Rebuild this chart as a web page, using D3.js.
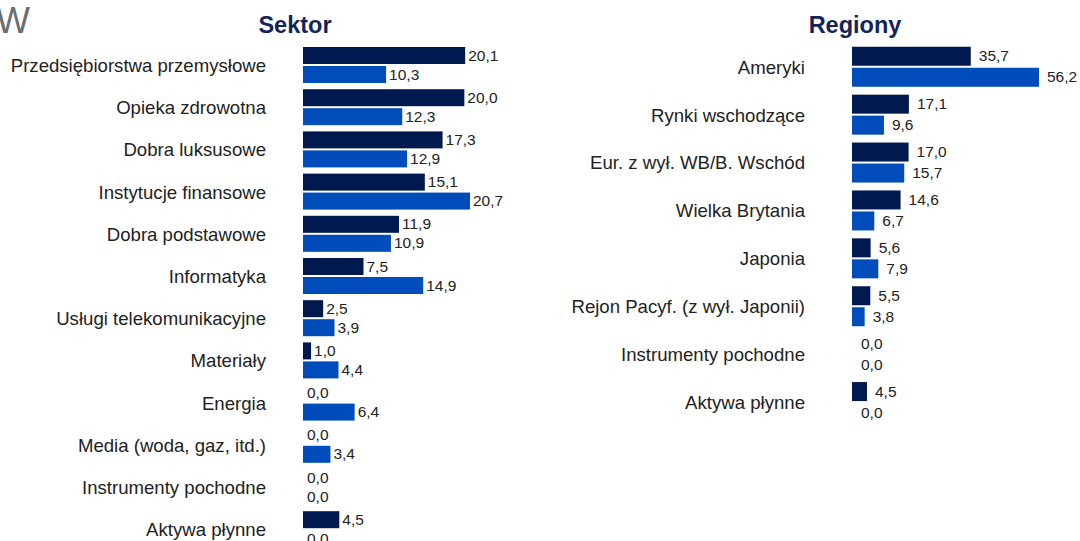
<!DOCTYPE html>
<html>
<head>
<meta charset="utf-8">
<script src="https://cdn.jsdelivr.net/npm/d3@7"></script>
<style>
  body { margin: 0; background: #fff; }
  svg { display: block; font-family: "Liberation Sans", Arial, sans-serif; }
  .title { font-weight: bold; font-size: 23.5px; fill: #13245a; }
  .cat { font-size: 18.6px; fill: #222; }
  .val { font-size: 15.5px; fill: #222; }
</style>
</head>
<body>
<svg id="chart" width="1080" height="541"></svg>
<script>
const DARK = '#001a4f';
const LIGHT = '#004cbb';

const sectors = ['Przedsiębiorstwa przemysłowe', 'Opieka zdrowotna', 'Dobra luksusowe',
  'Instytucje finansowe', 'Dobra podstawowe', 'Informatyka', 'Usługi telekomunikacyjne',
  'Materiały', 'Energia', 'Media (woda, gaz, itd.)', 'Instrumenty pochodne', 'Aktywa płynne'];
const sectorFund = [20.1, 20.0, 17.3, 15.1, 11.9, 7.5, 2.5, 1.0, 0.0, 0.0, 0.0, 4.5];
const sectorIndex = [10.3, 12.3, 12.9, 20.7, 10.9, 14.9, 3.9, 4.4, 6.4, 3.4, 0.0, 0.0];

const regions = ['Ameryki', 'Rynki wschodzące', 'Eur. z wył. WB/B. Wschód', 'Wielka Brytania',
  'Japonia', 'Rejon Pacyf. (z wył. Japonii)', 'Instrumenty pochodne', 'Aktywa płynne'];
const regionFund = [35.7, 17.1, 17.0, 14.6, 5.6, 5.5, 0.0, 4.5];
const regionIndex = [56.2, 9.6, 15.7, 6.7, 7.9, 3.8, 0.0, 0.0];

const series = ['fund', 'index'];
const svg = d3.select('#chart');
const fmt = v => v.toFixed(1).replace('.', ',');

// clipped heading fragment at the top-left
svg.append('text')
  .attr('x', -4).attr('y', 33)
  .attr('font-size', 36).attr('fill', '#6b6f72')
  .text('W');

function drawPanel (cfg) {
  const g = svg.append('g');
  const rows = cfg.cats.map((c, i) => ({ cat: c, fund: cfg.fund[i], index: cfg.index[i] }));

  const x = d3.scaleLinear().domain([0, cfg.xMax]).range([cfg.x0, cfg.x1]);
  const y = d3.scaleBand().domain(cfg.cats).range([cfg.yTop, cfg.yTop + cfg.step * cfg.cats.length]);
  const sub = d3.scaleBand().domain(series)
    .range([cfg.inset, cfg.inset + cfg.group]).paddingInner(cfg.gapPad);

  g.append('text').attr('class', 'title')
    .attr('x', cfg.titleX).attr('y', 33)
    .attr('text-anchor', 'middle')
    .text(cfg.title);

  const row = g.selectAll('g.row').data(rows).join('g')
    .attr('class', 'row')
    .attr('transform', d => 'translate(0,' + y(d.cat) + ')');

  row.append('text').attr('class', 'cat')
    .attr('x', cfg.labelX)
    .attr('y', cfg.inset + cfg.group / 2 + 2)
    .attr('text-anchor', 'end')
    .attr('dominant-baseline', 'middle')
    .text(d => d.cat);

  series.forEach(s => {
    row.append('rect')
      .attr('x', x(0))
      .attr('y', sub(s))
      .attr('width', d => x(d[s]) - x(0))
      .attr('height', sub.bandwidth())
      .attr('fill', s === 'fund' ? DARK : LIGHT);
    row.append('text').attr('class', 'val')
      .attr('x', d => x(d[s]) + (d[s] === 0 ? cfg.zeroGap : cfg.valGap))
      .attr('y', sub(s) + sub.bandwidth() / 2 + 1)
      .attr('dominant-baseline', 'middle')
      .text(d => fmt(d[s]));
  });
}

drawPanel({
  title: 'Sektor', titleX: 295,
  cats: sectors, fund: sectorFund, index: sectorIndex,
  xMax: 20.7, x0: 303, x1: 470,
  yTop: 44, step: 42.2, inset: 3, group: 36, gapPad: 2 / 19,
  labelX: 266, valGap: 3, zeroGap: 4
});

drawPanel({
  title: 'Regiony', titleX: 855,
  cats: regions, fund: regionFund, index: regionIndex,
  xMax: 56.2, x0: 852, x1: 1039,
  yTop: 42.75, step: 47.9, inset: 4, group: 40, gapPad: 2 / 21,
  labelX: 805, valGap: 8, zeroGap: 9
});
</script>
</body>
</html>
